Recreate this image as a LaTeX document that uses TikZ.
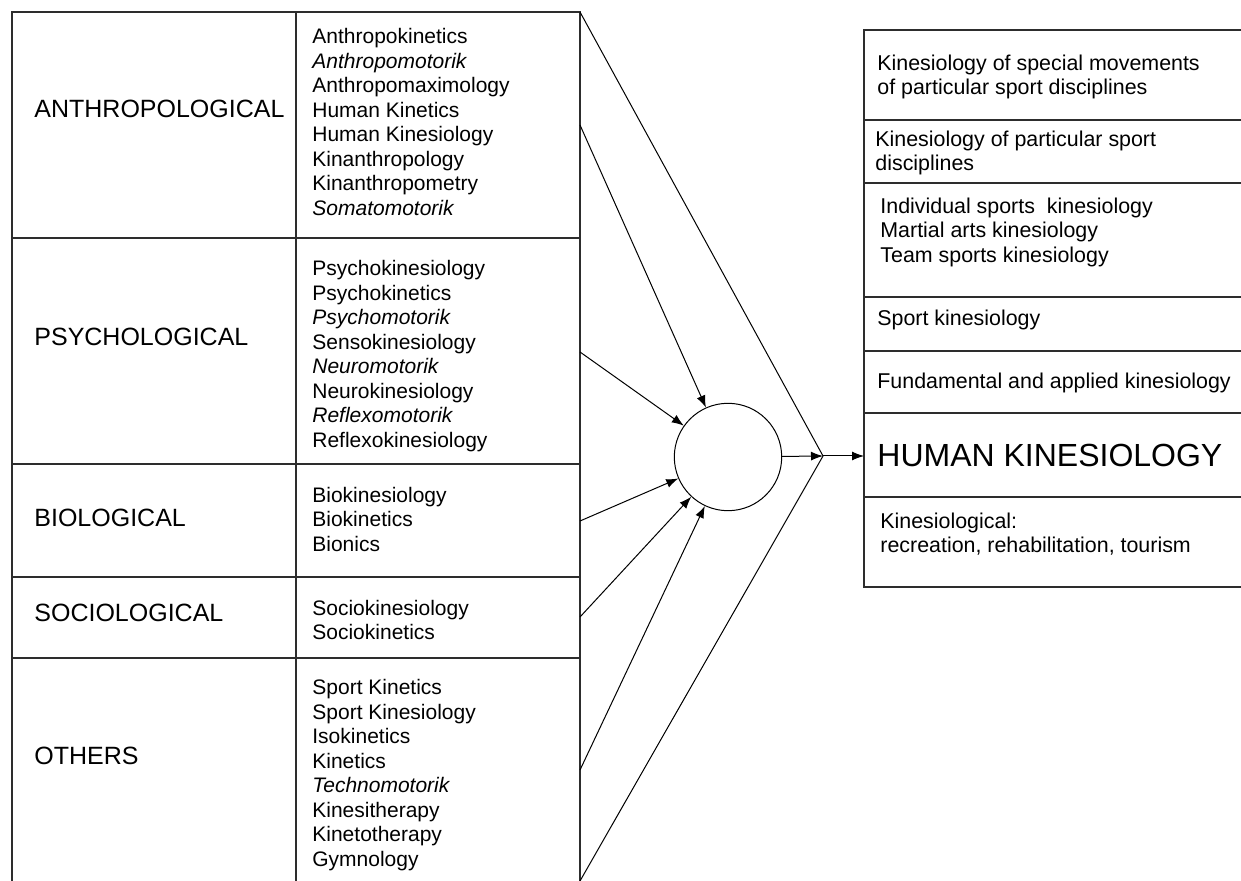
\documentclass[tikz,border=0pt]{standalone}
\usepackage{fontspec}
\setmainfont{Liberation Sans}
\usetikzlibrary{arrows.meta, positioning, calc}
\definecolor{linegray}{RGB}{45,45,45}

\begin{document}
\begin{tikzpicture}[
        x=0.5pt, y=-0.5pt,
        grid/.style={draw=linegray, line width=0.6pt},
        catlabel/.style={anchor=west, inner sep=0pt, font=\fontsize{12.5}{15}\selectfont},
        termlist/.style={anchor=west, inner sep=0pt, align=left, font=\fontsize{10.5}{12.25}\selectfont},
        branch/.style={anchor=west, inner sep=0pt, align=left, font=\fontsize{10.7}{12.25}\selectfont},
        feed/.style={draw=black, line width=0.5pt, -{Latex[length=6pt,width=4.5pt]}},
        hubnode/.style={circle, draw=black, line width=0.5pt, minimum size=53.7pt, inner sep=0pt}
    ]
    \useasboundingbox (0,0) rectangle (1241,881);

    % left table
    \draw[grid] (12,881) -- (12,12) -- (580,12) -- (580,881);
    \draw[grid] (296,12) -- (296,881);
    \foreach \y in {238,464,577,658}
        \draw[grid] (12,\y) -- (580,\y);

    \node[catlabel] (anthro) at (34,109) {ANTHROPOLOGICAL};
    \node[catlabel] (psycho) at (34,337) {PSYCHOLOGICAL};
    \node[catlabel] (bio) at (34,518) {BIOLOGICAL};
    \node[catlabel] (socio) at (34,613) {SOCIOLOGICAL};
    \node[catlabel] (others) at (34,756) {OTHERS};

    \node[termlist] (anthrolist) at (312,122) {Anthropokinetics\\\textit{Anthropomotorik}\\Anthropomaximology\\Human Kinetics\\Human Kinesiology\\Kinanthropology\\Kinanthropometry\\\textit{Somatomotorik}};
    \node[termlist] (psycholist) at (312,356) {Psychokinesiology\\Psychokinetics\\\textit{Psychomotorik}\\Sensokinesiology\\\textit{Neuromotorik}\\Neurokinesiology\\\textit{Reflexomotorik}\\Reflexokinesiology};
    \node[termlist] (biolist) at (312,519) {Biokinesiology\\Biokinetics\\Bionics};
    \node[termlist] (sociolist) at (312,620) {Sociokinesiology\\Sociokinetics};
    \node[termlist] (otherlist) at (312,775) {Sport Kinetics\\Sport Kinesiology\\Isokinetics\\Kinetics\\\textit{Technomotorik}\\Kinesitherapy\\Kinetotherapy\\Gymnology};

    % hub and connectors
    \node[hubnode] (hub) at (728,457) {};
    \coordinate (apex) at (823,456);
    \coordinate (tabletop) at (580,12);
    \coordinate (tablebot) at (580,881);
    \coordinate (src1) at (580,125);
    \coordinate (src2) at (580,352);
    \coordinate (src3) at (580,521);
    \coordinate (src4) at (580,617);
    \coordinate (src5) at (580,770);
    \coordinate (hkin) at (864,456);

    \draw[line width=0.5pt] (tabletop) -- (apex) -- (tablebot);
    \foreach \s in {src1,src2,src3,src4,src5}
        \draw[feed] (\s) -- (hub);
    \draw[feed] (hub) -- (apex);
    \draw[feed] (apex) -- (hkin);

    % right table
    \draw[grid] (1241,30) -- (864,30) -- (864,587) -- (1241,587);
    \foreach \y in {120,183,297,351,413,497}
        \draw[grid] (864,\y) -- (1241,\y);

    \node[branch] (special) at (877,77) {Kinesiology of special movements\\of particular sport disciplines};
    \node[branch] (particular) at (875,153) {Kinesiology of particular sport\\disciplines};
    \node[branch] (sports) at (880,232) {Individual sports\ \ kinesiology\\Martial arts kinesiology\\Team sports kinesiology};
    \node[branch] (sport) at (877,320) {Sport kinesiology};
    \node[branch] (fundamental) at (877,383) {Fundamental and applied kinesiology};
    \node[anchor=west, inner sep=0pt, font=\fontsize{16}{19}\selectfont] (human) at (877,455) {HUMAN KINESIOLOGY};
    \node[branch] (applied) at (880,534) {Kinesiological:\\recreation, rehabilitation, tourism};
\end{tikzpicture}
\end{document}
